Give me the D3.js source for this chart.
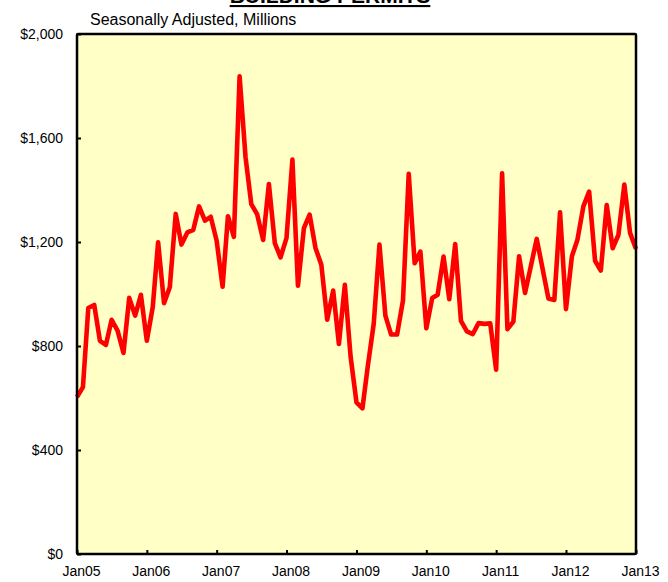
<!DOCTYPE html>
<html>
<head>
<meta charset="utf-8">
<script src="https://cdn.jsdelivr.net/npm/d3@7"></script>
<style>
  body { margin: 0; background: #fff; }
  text { font-family: Arial, "Liberation Sans", sans-serif; }
</style>
</head>
<body>
<svg id="chart" width="668" height="582"></svg>
<script>
// monthly permits, Jan05 .. Jan13
var startYear = 2005
var permits = [
  604, 642, 946, 958, 820, 804, 901, 859, 773, 985, 917, 997,
  820, 950, 1199, 965, 1026, 1308, 1190, 1237, 1247, 1337, 1282, 1297,
  1205, 1028, 1299, 1220, 1837, 1526, 1346, 1306, 1208, 1423, 1196, 1141,
  1215, 1517, 1032, 1253, 1305, 1176, 1113, 901, 1013, 808, 1035, 760,
  583, 560, 722, 885, 1190, 917, 844, 844, 975, 1462, 1118, 1163,
  868, 985, 997, 1144, 980, 1192, 897, 856, 846, 888, 885, 887,
  709, 1464, 865, 894, 1145, 1004, 1106, 1212, 1096, 983, 977, 1314,
  942, 1145, 1209, 1337, 1394, 1128, 1090, 1342, 1176, 1227, 1421, 1235,
  1173
]
var yTicks = [0, 400, 800, 1200, 1600, 2000]
var xTickLabels = ["Jan05", "Jan06", "Jan07", "Jan08", "Jan09", "Jan10", "Jan11", "Jan12", "Jan13"]

var svg = d3.select("#chart")

// plot box
var plotLeft = 77, plotRight = 636, plotTop = 34, plotBottom = 554

var x = d3.scaleTime()
  .domain([new Date(2005, 0, 1), new Date(2013, 0, 1)])
  .range([plotLeft, plotRight])

var y = d3.scaleLinear()
  .domain([0, 2000])
  .range([plotBottom, plotTop])

var data = permits.map(function(v, i) {
  return { date: new Date(startYear, i, 1), value: v }
})

// plot background
svg.append("rect")
  .attr("x", plotLeft)
  .attr("y", plotTop)
  .attr("width", plotRight - plotLeft)
  .attr("height", plotBottom - plotTop)
  .attr("fill", "#ffffc6")

// y axis ticks (inside)
var yAxis = d3.axisLeft(y)
  .tickValues(yTicks)
  .tickSizeInner(-4)
  .tickSizeOuter(0)
  .tickPadding(14)
  .tickFormat(function(d) { return "$" + d3.format(",")(d) })

svg.append("g")
  .attr("transform", "translate(" + plotLeft + ",0)")
  .call(yAxis)
  .call(function(g) {
    g.select(".domain").remove()
    g.selectAll(".tick line").attr("stroke", "#000").attr("stroke-width", 2)
    g.selectAll("text").attr("font-size", 14).attr("fill", "#000")
  })

// x axis ticks (inside)
var xAxis = d3.axisBottom(x)
  .tickValues(xTickLabels.map(function(d, i) { return new Date(2005 + i, 0, 1) }))
  .tickSizeInner(-4)
  .tickSizeOuter(0)
  .tickPadding(12)
  .tickFormat(function(d, i) { return xTickLabels[i] })

svg.append("g")
  .attr("transform", "translate(0," + plotBottom + ")")
  .call(xAxis)
  .call(function(g) {
    g.select(".domain").remove()
    g.selectAll(".tick line").attr("stroke", "#000").attr("stroke-width", 2)
    g.selectAll("text").attr("font-size", 14).attr("fill", "#000").attr("dx", 4)
  })

// the line
var line = d3.line()
  .x(function(d) { return x(d.date) })
  .y(function(d) { return y(d.value) })

svg.append("path")
  .datum(data)
  .attr("d", line)
  .attr("fill", "none")
  .attr("stroke", "#ff0000")
  .attr("stroke-width", 4.6)
  .attr("stroke-linejoin", "round")

// frame
svg.append("rect")
  .attr("x", plotLeft)
  .attr("y", plotTop)
  .attr("width", plotRight - plotLeft)
  .attr("height", plotBottom - plotTop)
  .attr("fill", "none")
  .attr("stroke", "#000")
  .attr("stroke-width", 2.5)
  .attr("rx", 1)

// titles
svg.append("text")
  .attr("x", 330)
  .attr("y", 3)
  .attr("text-anchor", "middle")
  .attr("font-size", 21)
  .attr("font-weight", "bold")
  .attr("text-decoration", "underline")
  .text("BUILDING PERMITS")

svg.append("text")
  .attr("x", 90)
  .attr("y", 25)
  .attr("font-size", 16)
  .text("Seasonally Adjusted, Millions")
</script>
</body>
</html>
